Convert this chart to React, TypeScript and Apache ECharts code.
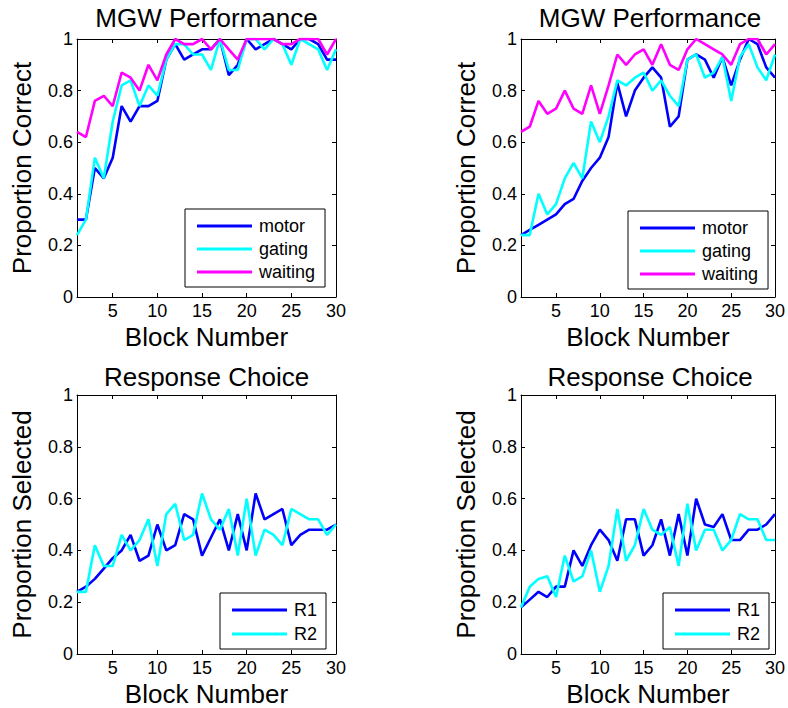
import React, { useEffect, useRef } from "react";
import * as echarts from "echarts";

// ---------------- data ----------------
const blocks = [1, 2, 3, 4, 5, 6, 7, 8, 9, 10, 11, 12, 13, 14, 15, 16, 17, 18, 19, 20, 21, 22, 23, 24, 25, 26, 27, 28, 29, 30];
const xTickValues = [5, 10, 15, 20, 25, 30];

// Top-left: MGW Performance
const motorA = [0.30, 0.30, 0.50, 0.46, 0.54, 0.74, 0.68, 0.74, 0.74, 0.76, 0.92, 0.98, 0.92, 0.94, 0.96, 0.96, 1.00, 0.86, 0.90, 1.00, 0.96, 0.98, 1.00, 0.98, 0.96, 1.00, 1.00, 0.98, 0.92, 0.92];
const gatingA = [0.24, 0.30, 0.54, 0.46, 0.68, 0.82, 0.84, 0.74, 0.82, 0.78, 0.92, 0.98, 0.98, 0.94, 0.94, 0.88, 1.00, 0.88, 0.88, 1.00, 1.00, 0.96, 1.00, 0.98, 0.90, 1.00, 0.98, 0.96, 0.88, 0.96];
const waitingA = [0.64, 0.62, 0.76, 0.78, 0.74, 0.87, 0.85, 0.80, 0.90, 0.84, 0.94, 1.00, 0.98, 0.98, 1.00, 0.96, 1.00, 0.96, 0.92, 1.00, 1.00, 1.00, 1.00, 0.98, 0.98, 1.00, 1.00, 1.00, 0.94, 1.00];

// Top-right: MGW Performance
const motorB = [0.24, 0.26, 0.28, 0.30, 0.32, 0.36, 0.38, 0.45, 0.50, 0.54, 0.62, 0.83, 0.70, 0.80, 0.85, 0.89, 0.85, 0.66, 0.70, 0.92, 0.94, 0.92, 0.85, 0.93, 0.82, 0.92, 1.00, 0.98, 0.89, 0.85];
const gatingB = [0.24, 0.24, 0.40, 0.32, 0.36, 0.46, 0.52, 0.46, 0.68, 0.60, 0.70, 0.84, 0.82, 0.85, 0.87, 0.80, 0.84, 0.78, 0.74, 0.92, 0.94, 0.85, 0.87, 0.93, 0.76, 0.93, 0.98, 0.89, 0.84, 0.94];
const waitingB = [0.64, 0.66, 0.76, 0.71, 0.73, 0.80, 0.73, 0.71, 0.82, 0.71, 0.82, 0.94, 0.90, 0.94, 0.96, 0.90, 0.98, 0.90, 0.88, 0.96, 1.00, 0.98, 0.96, 0.94, 0.90, 0.98, 1.00, 1.00, 0.94, 0.98];

// Bottom-left: Response Choice
const r1A = [0.24, 0.26, 0.29, 0.33, 0.37, 0.40, 0.46, 0.36, 0.38, 0.50, 0.40, 0.42, 0.54, 0.52, 0.38, 0.45, 0.52, 0.40, 0.54, 0.40, 0.62, 0.52, 0.54, 0.56, 0.42, 0.46, 0.48, 0.48, 0.48, 0.50];
const r2A = [0.24, 0.24, 0.42, 0.34, 0.34, 0.46, 0.40, 0.44, 0.52, 0.34, 0.54, 0.58, 0.44, 0.46, 0.62, 0.52, 0.48, 0.56, 0.38, 0.60, 0.38, 0.48, 0.46, 0.42, 0.56, 0.54, 0.52, 0.52, 0.46, 0.50];

// Bottom-right: Response Choice
const r1B = [0.18, 0.21, 0.24, 0.22, 0.26, 0.26, 0.40, 0.34, 0.42, 0.48, 0.44, 0.36, 0.52, 0.52, 0.38, 0.42, 0.52, 0.38, 0.54, 0.38, 0.60, 0.50, 0.49, 0.54, 0.44, 0.44, 0.48, 0.48, 0.50, 0.54];
const r2B = [0.18, 0.26, 0.29, 0.30, 0.22, 0.38, 0.28, 0.30, 0.40, 0.24, 0.34, 0.56, 0.36, 0.42, 0.56, 0.48, 0.46, 0.49, 0.34, 0.58, 0.40, 0.48, 0.48, 0.40, 0.44, 0.54, 0.52, 0.52, 0.44, 0.44];

const perfNames = ["motor", "gating", "waiting"];
const choiceNames = ["R1", "R2"];
const titles = ["MGW Performance", "MGW Performance", "Response Choice", "Response Choice"];
const yNames = ["Proportion Correct", "Proportion Correct", "Proportion Selected", "Proportion Selected"];
const xName = "Block Number";

// ---------------- styling ----------------
const FONT = "'Liberation Sans', Arial, Helvetica, sans-serif";
const BLUE = "#0000ff";
const CYAN = "#00ffff";
const MAGENTA = "#ff00ff";

const grids = [
  { left: 77, top: 39, width: 259, height: 258 },
  { left: 521, top: 39, width: 258, height: 258 },
  { left: 77, top: 395, width: 259, height: 260 },
  { left: 521, top: 395, width: 258, height: 260 },
];

function buildOption() {
  const xAxis: any[] = [];
  const yAxis: any[] = [];
  grids.forEach((_, g) => {
    const xBase = {
      type: "value",
      gridIndex: g,
      min: 1,
      max: 30,
      splitLine: { show: false },
      axisLine: { show: true, onZero: false, lineStyle: { color: "#000", width: 1 } },
      axisTick: { show: true, inside: true, length: 4, customValues: xTickValues, lineStyle: { color: "#000" } },
    };
    xAxis.push({
      ...xBase,
      position: "bottom",
      name: xName,
      nameLocation: "middle",
      nameGap: 27,
      nameTextStyle: { fontSize: 26, color: "#000", fontFamily: FONT },
      axisLabel: { show: true, customValues: xTickValues, margin: 5, fontSize: 18, color: "#000", fontFamily: FONT },
    });
    xAxis.push({ ...xBase, position: "top", axisLabel: { show: false } });

    const yBase = {
      type: "value",
      gridIndex: g,
      min: 0,
      max: 1,
      interval: 0.2,
      splitLine: { show: false },
      axisLine: { show: true, onZero: false, lineStyle: { color: "#000", width: 1 } },
      axisTick: { show: true, inside: true, length: 4, lineStyle: { color: "#000" } },
    };
    yAxis.push({
      ...yBase,
      position: "left",
      name: yNames[g],
      nameLocation: "middle",
      nameGap: 42,
      nameTextStyle: { fontSize: 26, color: "#000", fontFamily: FONT },
      axisLabel: { show: true, margin: 4, fontSize: 18, color: "#000", fontFamily: FONT },
    });
    yAxis.push({ ...yBase, position: "right", axisLabel: { show: false } });
  });

  const mk = (name: string, values: number[], color: string, g: number) => ({
    type: "line",
    name,
    xAxisIndex: 2 * g,
    yAxisIndex: 2 * g,
    data: blocks.map((b, i) => [b, values[i]]),
    showSymbol: false,
    symbol: "none",
    color,
    lineStyle: { color, width: 2.6 },
    itemStyle: { color },
    z: 2,
  });

  const series = [
    mk("motor", motorA, BLUE, 0),
    mk("gating", gatingA, CYAN, 0),
    mk("waiting", waitingA, MAGENTA, 0),
    mk("motor", motorB, BLUE, 1),
    mk("gating", gatingB, CYAN, 1),
    mk("waiting", waitingB, MAGENTA, 1),
    mk("R1", r1A, BLUE, 2),
    mk("R2", r2A, CYAN, 2),
    mk("R1", r1B, BLUE, 3),
    mk("R2", r2B, CYAN, 3),
  ];

  const legendBase = {
    orient: "vertical",
    itemWidth: 55,
    itemHeight: 3,
    icon: "rect",
    borderColor: "#000",
    borderWidth: 1,
    backgroundColor: "#fff",
    selectedMode: false,
    textStyle: { fontSize: 18, color: "#000", fontFamily: FONT, padding: [0, 0, 0, 2] },
  };
  const legend = [
    { ...legendBase, data: perfNames, left: 185, top: 209, itemGap: 5, padding: [8, 10, 6, 12] },
    { ...legendBase, data: perfNames, left: 628, top: 211, itemGap: 5, padding: [8, 10, 6, 12] },
    { ...legendBase, data: choiceNames, left: 220, top: 593, itemGap: 6, padding: [8, 9, 6, 12] },
    { ...legendBase, data: choiceNames, left: 663, top: 593, itemGap: 6, padding: [8, 9, 6, 12] },
  ];

  const titleCenters = [
    [206.5, 4.5],
    [650, 4.5],
    [206.5, 364],
    [650, 364],
  ];
  const title = titles.map((t, i) => ({
    text: t,
    left: titleCenters[i][0],
    top: titleCenters[i][1],
    textAlign: "center",
    padding: 0,
    textStyle: { fontSize: 26, fontWeight: "normal", color: "#000", fontFamily: FONT },
  }));

  return {
    animation: false,
    backgroundColor: "#fff",
    title,
    grid: grids.map((g) => ({ ...g, containLabel: false })),
    xAxis,
    yAxis,
    legend,
    series,
  };
}

export default function App() {
  const ref = useRef<HTMLDivElement>(null);
  useEffect(() => {
    if (!ref.current) return;
    const chart = echarts.init(ref.current, undefined, { renderer: "svg" });
    chart.setOption(buildOption() as any);
    return () => chart.dispose();
  }, []);
  return (
    <div
      ref={ref}
      style={{ position: "fixed", left: 0, top: 0, width: 788, height: 708, background: "#fff" }}
    />
  );
}
